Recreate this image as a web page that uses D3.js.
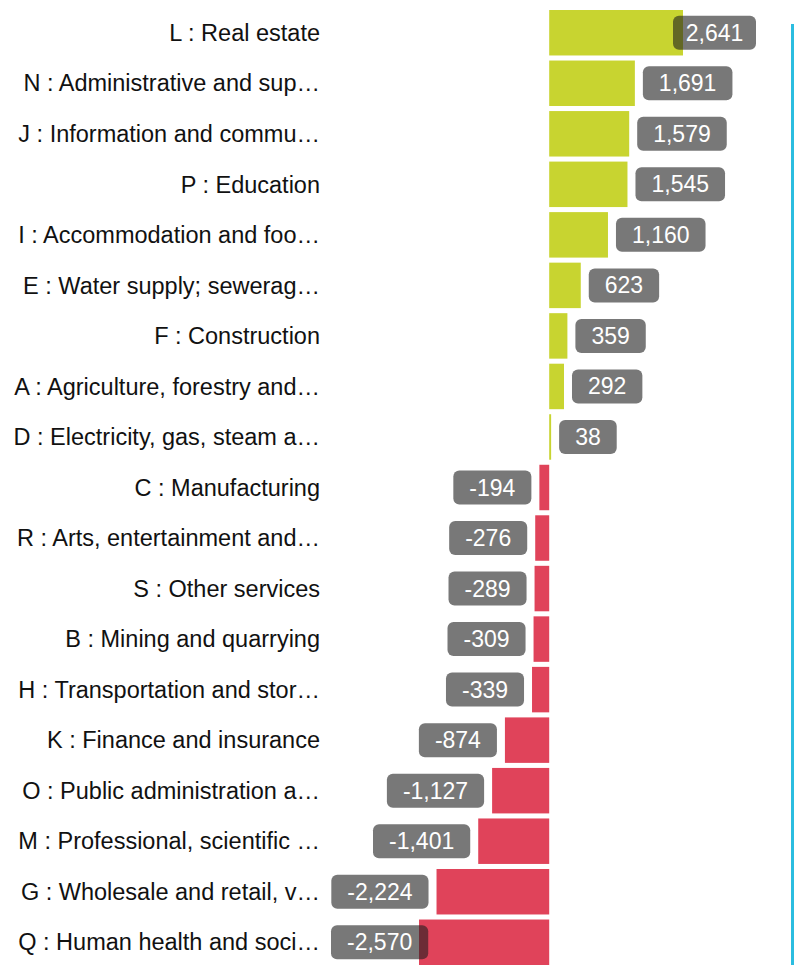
<!DOCTYPE html>
<html>
<head>
<meta charset="utf-8">
<script src="https://cdn.jsdelivr.net/npm/d3@7"></script>
<style>
  body { margin: 0; background: #fff; }
  text { font-family: Arial, "Liberation Sans", sans-serif; }
</style>
</head>
<body>
<div id="chart"></div>
<script>
// Data
var categories = [
  "L : Real estate",
  "N : Administrative and sup\u2026",
  "J : Information and commu\u2026",
  "P : Education",
  "I : Accommodation and foo\u2026",
  "E : Water supply; sewerag\u2026",
  "F : Construction",
  "A : Agriculture, forestry and\u2026",
  "D : Electricity, gas, steam a\u2026",
  "C : Manufacturing",
  "R : Arts, entertainment and\u2026",
  "S : Other services",
  "B : Mining and quarrying",
  "H : Transportation and stor\u2026",
  "K : Finance and insurance",
  "O : Public administration a\u2026",
  "M : Professional, scientific \u2026",
  "G : Wholesale and retail, v\u2026",
  "Q : Human health and soci\u2026"
];
var values = [2641, 1691, 1579, 1545, 1160, 623, 359, 292, 38,
  -194, -276, -289, -309, -339, -874, -1127, -1401, -2224, -2570];

var width = 794, height = 965;
var labelRight = 320, boxMin = 331, boxMax = 756;

var svg = d3.select("#chart")
    .append("svg")
    .attr("width", width)
    .attr("height", height);

var data = categories.map(function(c, i) { return { name: c, value: values[i] }; });

var x = d3.scaleLinear().domain([d3.min(values), d3.max(values)]).range([419, 683]);
var y = d3.scaleBand().domain(categories).range([10, 965]).paddingInner(0.1).paddingOuter(0);

// plain hyphen for negatives, like the original
var fmt = d3.formatLocale({ decimal: ".", thousands: ",", grouping: [3], currency: ["", ""], minus: "-" }).format(",");

// Blue line on the right
svg.append("line")
    .attr("x1", 792.5).attr("x2", 792.5)
    .attr("y1", 24).attr("y2", height)
    .attr("stroke", "#2bbde0")
    .attr("stroke-width", 3);

// Bars
svg.append("g")
    .selectAll("rect")
    .data(data)
    .enter()
    .append("rect")
    .attr("x", function(d) { return Math.min(x(0), x(d.value)); })
    .attr("y", function(d) { return y(d.name); })
    .attr("width", function(d) { return Math.max(1.5, Math.abs(x(d.value) - x(0))); })
    .attr("height", y.bandwidth())
    .attr("fill", function(d) { return d.value >= 0 ? "#c8d430" : "#e0435a"; });

// Category labels
svg.append("g")
    .selectAll("text")
    .data(data)
    .enter()
    .append("text")
    .attr("x", labelRight)
    .attr("y", function(d) { return y(d.name) + y.bandwidth() / 2; })
    .attr("dy", "0.35em")
    .attr("text-anchor", "end")
    .style("font-size", "23.5px")
    .style("fill", "#111")
    .text(function(d) { return d.name; });

// Value boxes
var boxes = svg.append("g")
    .selectAll("g")
    .data(data)
    .enter()
    .append("g");

boxes.each(function(d) {
    var g = d3.select(this);
    var cy = y(d.name) + y.bandwidth() / 2;
    var t = g.append("text")
        .attr("y", cy)
        .attr("dy", "0.35em")
        .attr("text-anchor", "middle")
        .style("font-size", "23px")
        .style("fill", "#fff")
        .text(fmt(d.value));
    var w = t.node().getComputedTextLength() + 32;
    var bx = d.value >= 0 ? x(d.value) + 8 : x(d.value) - 8 - w;
    // keep the box inside the plot, trimming it at the right edge
    if (bx + w > boxMax) { bx = Math.max(x(d.value) - 10, boxMax - w); w = boxMax - bx; }
    bx = Math.max(boxMin, bx);
    g.insert("rect", "text")
        .attr("x", bx)
        .attr("y", cy - 17)
        .attr("width", w)
        .attr("height", 34)
        .attr("rx", 6)
        .attr("fill", "rgba(30,30,30,0.6)");
    t.attr("x", bx + w / 2);
});
</script>
</body>
</html>
